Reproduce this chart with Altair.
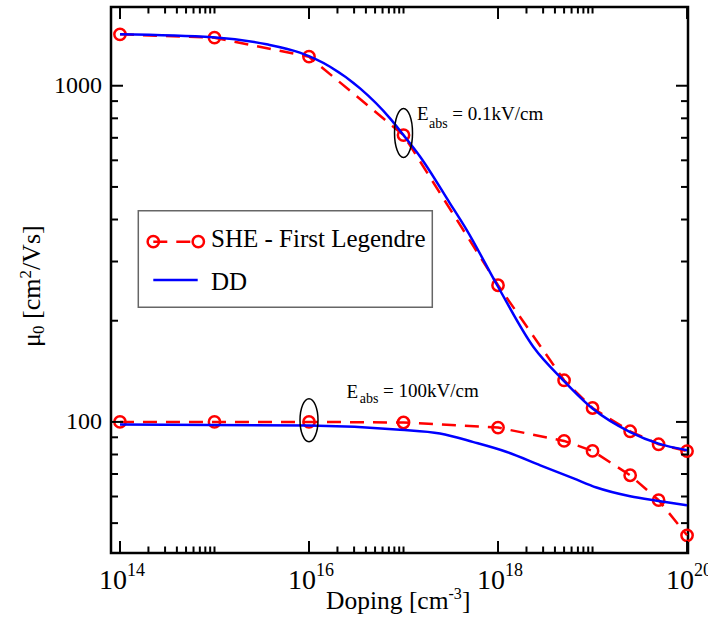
import altair as alt
import pandas as pd

# ---------------- data ----------------
she_x = [1e14, 1e15, 1e16, 1e17, 1e18, 5e18, 1e19, 2.5e19, 5e19, 1e20]
she_01 = [1422, 1390, 1220, 713, 255, 133, 110, 93.8, 85.8, 81.9]      # E_abs = 0.1 kV/cm
she_100 = [100, 100, 100, 99.6, 96.2, 87.8, 82.0, 69.4, 58.5, 46.0]    # E_abs = 100 kV/cm

dd01_x = [1e14, 9.6e14, 3.56e15, 8.0e15, 1.67e16, 3.47e16, 7.2e16, 1e17, 1.5e17,
          3.1e17, 4.67e17, 9.8e17, 2.37e18, 4.9e18, 1e19, 2.5e19, 5e19, 1e20]
dd01_y = [1422, 1393, 1328, 1254, 1139, 982, 800, 713, 615,
          447, 372, 255, 167, 133, 109.6, 93.3, 86.2, 82.4]

dd100_x = [1e14, 1e16, 9.2e16, 2.43e17, 5.5e17, 1.24e18, 2.8e18, 6.3e18, 1.1e19, 2.5e19, 5e19, 1e20]
dd100_y = [98.2, 97.5, 94.8, 92.4, 87.1, 81.4, 74.3, 67.9, 63.8, 60.1, 58.2, 56.5]

x_major = [1e14, 1e16, 1e18, 1e20]
x_exp = ["14", "16", "18", "20"]
x_minor = [2e14, 3e14, 4e14, 5e14, 6e14, 7e14, 8e14, 9e14, 1e15,
           2e16, 3e16, 4e16, 5e16, 6e16, 7e16, 8e16, 9e16, 1e17,
           2e18, 3e18, 4e18, 5e18, 6e18, 7e18, 8e18, 9e18, 1e19]
y_major = [100, 1000]
y_minor = [50, 60, 70, 80, 90, 200, 300, 400, 500, 600, 700, 800, 900]

ann_x = [1e17, 1e16]
ann_y = [724, 101.2]
ann_val = ["= 0.1kV/cm", "= 100kV/cm"]

# ---------------- layout ----------------
W, H = 577, 546
FONT = "Liberation Serif, Times New Roman, Times, serif"
RED, BLUE = "#ff0000", "#0000ff"
MSIZE = 128

xsc = alt.Scale(type="log", domain=[10 ** 13.905, 10 ** 20.01], nice=False)
ysc = alt.Scale(type="log", domain=[10 ** 1.6101, 10 ** 3.2342], nice=False)


def X(f="x"):
    return alt.X(f"{f}:Q", scale=xsc, axis=None)


def Y(f="y"):
    return alt.Y(f"{f}:Q", scale=ysc, axis=None)


one = pd.DataFrame({"a": [0]})

she = pd.DataFrame({
    "x": she_x + she_x,
    "y": she_01 + she_100,
    "c": ["a"] * len(she_x) + ["b"] * len(she_x),
})
dd = pd.DataFrame({
    "x": dd01_x + dd100_x,
    "y": dd01_y + dd100_y,
    "c": ["a"] * len(dd01_x) + ["b"] * len(dd100_x),
})

layers = []

# curves
layers.append(alt.Chart(she).mark_line(color=RED, strokeWidth=2.5, strokeDash=[14, 9]).encode(
    x=X(), y=Y(), detail="c:N"))
layers.append(alt.Chart(she).mark_point(shape="circle", filled=False, color=RED, size=MSIZE,
                                        strokeWidth=2.5, opacity=1).encode(x=X(), y=Y()))
layers.append(alt.Chart(dd).mark_line(color=BLUE, strokeWidth=2.5, interpolate="monotone").encode(
    x=X(), y=Y(), detail="c:N"))

# ticks (pointing inward, on all four sides)
xmaj = pd.DataFrame({"v": x_major, "e": x_exp, "b": ["10"] * len(x_major)})
xmin_ = pd.DataFrame({"v": x_minor})
ymaj = pd.DataFrame({"v": y_major, "t": [str(v) for v in y_major]})
ymin_ = pd.DataFrame({"v": y_minor})
for df, L in ((xmaj, 12), (xmin_, 6.5)):
    layers.append(alt.Chart(df).mark_rule(color="black", strokeWidth=2).encode(
        x=X("v"), y=alt.value(H), y2=alt.value(H - L)))
    layers.append(alt.Chart(df).mark_rule(color="black", strokeWidth=2).encode(
        x=X("v"), y=alt.value(0), y2=alt.value(L)))
for df, L in ((ymaj, 12), (ymin_, 7)):
    layers.append(alt.Chart(df).mark_rule(color="black", strokeWidth=2).encode(
        y=Y("v"), x=alt.value(0), x2=alt.value(L)))
    layers.append(alt.Chart(df).mark_rule(color="black", strokeWidth=2).encode(
        y=Y("v"), x=alt.value(W), x2=alt.value(W - L)))

# tick labels
layers.append(alt.Chart(xmaj).mark_text(font=FONT, fontSize=28, align="center", baseline="alphabetic",
                                        dx=-7, color="black").encode(
    x=X("v"), y=alt.value(H + 36), text="b:N"))
layers.append(alt.Chart(xmaj).mark_text(font=FONT, fontSize=18, align="left", baseline="alphabetic",
                                        dx=7, color="black").encode(
    x=X("v"), y=alt.value(H + 23), text="e:N"))
layers.append(alt.Chart(ymaj).mark_text(font=FONT, fontSize=24, align="right", baseline="middle",
                                        dx=0, color="black").encode(
    y=Y("v"), x=alt.value(-9), text="t:N"))


def txt(s, x, y, size, align="left", angle=0):
    return alt.Chart(one).mark_text(font=FONT, fontSize=size, align=align, baseline="alphabetic",
                                    angle=angle, color="black").encode(
        x=alt.value(x), y=alt.value(y), text=alt.value(s))


# axis titles (x: Doping [cm^-3], y: mu_0 [cm^2/Vs])
layers += [
    txt("Doping [cm", 326 - 111, 609 - 7, 25.5),
    txt("-3", 448.5 - 111, 599 - 7, 16),
    txt("]", 462 - 111, 609 - 7, 25.5),
    txt("\u03bc", 40 - 111, 347 - 7, 26, angle=270),
    txt("0", 44 - 111, 334 - 7, 17, angle=270),
    txt("[cm", 40 - 111, 319 - 7, 26, angle=270),
    txt("2", 31 - 111, 278.6 - 7, 17, angle=270),
    txt("/Vs]", 40 - 111, 270.1 - 7, 26, angle=270),
]

# annotations: ellipses + labels
def ellipse_path(a):
    k = 0.5523
    ka = k * a
    return (f"M0,-1C{ka:.4f},-1,{a:.4f},-{k},{a:.4f},0C{a:.4f},{k},{ka:.4f},1,0,1"
            f"C-{ka:.4f},1,-{a:.4f},{k},-{a:.4f},0C-{a:.4f},-{k},-{ka:.4f},-1,0,-1Z")


ann = pd.DataFrame({"x": ann_x, "y": ann_y, "t": ann_val})
specs = [(0, 18 / 49, 49, (13.5, -12.8), (25.5, -4.5), (48.8, -12.8)),
         (1, 18 / 43, 43, (37.5, -22.5), (50.7, -16.7), (74, -23.3))]
for i, a, h, pE, pS, pV in specs:
    d = ann.iloc[[i]]
    layers.append(alt.Chart(d).mark_point(shape=ellipse_path(a), size=h * h, filled=False,
                                          color="black", strokeWidth=1.5, opacity=1).encode(x=X(), y=Y()))
    layers.append(alt.Chart(d).mark_text(font=FONT, fontSize=19, align="left", baseline="alphabetic",
                                         dx=pE[0], dy=pE[1], color="black").encode(
        x=X(), y=Y(), text=alt.value("E")))
    layers.append(alt.Chart(d).mark_text(font=FONT, fontSize=14, align="left", baseline="alphabetic",
                                         dx=pS[0], dy=pS[1], color="black").encode(
        x=X(), y=Y(), text=alt.value("abs")))
    layers.append(alt.Chart(d).mark_text(font=FONT, fontSize=19, align="left", baseline="alphabetic",
                                         dx=pV[0], dy=pV[1], color="black").encode(
        x=X(), y=Y(), text="t:N"))

# legend box
layers += [
    alt.Chart(one).mark_rect(fill="white", stroke="#666666", strokeWidth=1.5).encode(
        x=alt.value(27.3), x2=alt.value(321.3), y=alt.value(203.7), y2=alt.value(300.3)),
    alt.Chart(one).mark_rule(color=RED, strokeWidth=2.5, strokeDash=[14, 9]).encode(
        x=alt.value(42.3), x2=alt.value(87.3), y=alt.value(234.7)),
    alt.Chart(one).mark_point(shape="circle", filled=False, color=RED, size=MSIZE, strokeWidth=2.5,
                              opacity=1).encode(x=alt.value(42.3), y=alt.value(234.7)),
    alt.Chart(one).mark_point(shape="circle", filled=False, color=RED, size=MSIZE, strokeWidth=2.5,
                              opacity=1).encode(x=alt.value(87.3), y=alt.value(234.7)),
    txt("SHE - First Legendre", 100, 240.3, 25),
    alt.Chart(one).mark_rule(color=BLUE, strokeWidth=2.5).encode(
        x=alt.value(42.3), x2=alt.value(86.7), y=alt.value(273)),
    txt("DD", 100, 283, 25),
]

chart = alt.layer(*layers).properties(
    width=W, height=H,
    autosize=alt.AutoSizeParams(type="none"),
    padding={"left": 111, "top": 7, "right": 20, "bottom": 68},
    background="white",
).configure_view(stroke="black", strokeWidth=2.5)

chart.save("out.html", embed_options={"renderer": "svg", "actions": False})
